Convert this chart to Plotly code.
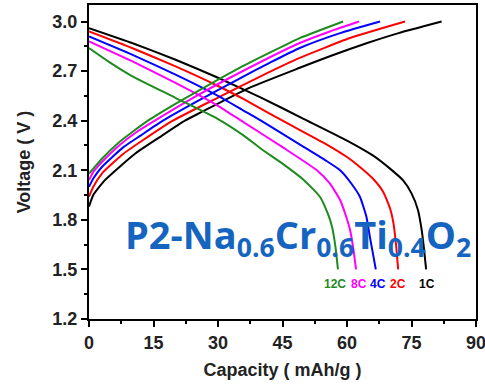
import plotly.graph_objects as go

rates = ["1C", "2C", "4C", "8C", "12C"]
colors = ["#000000", "#FF0000", "#0000FF", "#FF00FF", "#1E8B1E"]
label_dx = [0.2, 0.0, 0.5, 0.7, -0.7]

# Discharge curves (capacity, voltage)
dis_cap = {
    "1C": [0, 10, 20, 30, 40, 50, 60, 66, 70, 73, 75, 76.5, 77.3, 77.8, 78.2, 78.4],
    "2C": [0, 10, 20, 30, 36, 45, 55, 60, 63, 66, 68.4, 70, 70.8, 71.4, 71.9],
    "4C": [0, 10, 20, 30, 36, 40, 50, 55, 58.4, 61, 63, 64.5, 65.3, 66, 66.7],
    "8C": [0, 10, 20, 30, 36, 45, 53, 56, 58.4, 59.8, 60.7, 61.5, 62.1],
    "12C": [0, 5, 10, 20, 30, 36, 40, 45, 50, 53.7, 55.5, 56.5, 57.3, 57.9],
}
dis_v = {
    "1C": [2.96, 2.87, 2.77, 2.66, 2.54, 2.41, 2.28, 2.19, 2.11, 2.04, 1.96, 1.86, 1.75, 1.65, 1.55, 1.50],
    "2C": [2.94, 2.84, 2.73, 2.61, 2.53, 2.40, 2.26, 2.18, 2.12, 2.05, 1.97, 1.87, 1.78, 1.65, 1.50],
    "4C": [2.91, 2.80, 2.68, 2.55, 2.46, 2.40, 2.24, 2.16, 2.10, 2.02, 1.94, 1.82, 1.70, 1.60, 1.50],
    "8C": [2.88, 2.76, 2.63, 2.49, 2.39, 2.24, 2.10, 2.02, 1.92, 1.82, 1.74, 1.62, 1.50],
    "12C": [2.84, 2.75, 2.67, 2.54, 2.41, 2.31, 2.23, 2.14, 2.04, 1.94, 1.84, 1.76, 1.64, 1.50],
}

# Charge curves (capacity, voltage)
chg_cap = {
    "1C": [0, 1, 3.7, 10.7, 17, 22.3, 26, 37.4, 49, 56, 64.7, 72, 82],
    "2C": [0, 1, 3, 8, 13, 19.5, 30, 40, 49, 60.7, 73.5],
    "4C": [0, 1, 3, 8, 12, 17.2, 25, 35, 42, 49, 58.4, 67.7],
    "8C": [0, 1, 3, 7, 11, 15.3, 25, 35, 49, 56, 62.8],
    "12C": [0, 1, 3, 7, 10, 13.7, 20, 25, 35, 49, 54, 59.1],
}
chg_v = {
    "1C": [1.88, 1.95, 2.04, 2.20, 2.31, 2.40, 2.45, 2.60, 2.72, 2.79, 2.87, 2.93, 3.00],
    "2C": [1.94, 2.00, 2.08, 2.20, 2.29, 2.40, 2.54, 2.67, 2.78, 2.90, 3.00],
    "4C": [2.00, 2.05, 2.12, 2.24, 2.31, 2.40, 2.515, 2.655, 2.75, 2.84, 2.93, 3.00],
    "8C": [2.04, 2.09, 2.15, 2.25, 2.33, 2.40, 2.55, 2.69, 2.87, 2.94, 3.00],
    "12C": [2.08, 2.11, 2.17, 2.27, 2.33, 2.40, 2.50, 2.575, 2.72, 2.90, 2.95, 3.00],
}

x_ticks = [0, 15, 30, 45, 60, 75, 90]
y_ticks = [1.2, 1.5, 1.8, 2.1, 2.4, 2.7, 3.0]

fig = go.Figure()
for r, c in zip(rates, colors):
    fig.add_trace(go.Scatter(x=dis_cap[r], y=dis_v[r], mode="lines",
                             line=dict(color=c, width=2, shape="spline", smoothing=0.5),
                             showlegend=False))
    fig.add_trace(go.Scatter(x=chg_cap[r], y=chg_v[r], mode="lines",
                             line=dict(color=c, width=2, shape="spline", smoothing=0.5),
                             showlegend=False))

for r, c, dx in zip(rates, colors, label_dx):
    fig.add_annotation(x=dis_cap[r][-1] + dx, y=1.41, xref="x", yref="y",
                       text="<b>%s</b>" % r, showarrow=False,
                       font=dict(family="Liberation Sans", size=12, color=c))

fig.add_annotation(x=48.5, y=1.70, xref="x", yref="y",
                   text="<b>P2-Na<sub>0.6</sub>Cr<sub>0.6</sub>Ti<sub>0.4</sub>O<sub>2</sub></b>",
                   showarrow=False,
                   font=dict(family="Open Sans", size=38, color="#1565C0"))

axis_common = dict(
    showgrid=False, zeroline=False, showline=True, linecolor="black", linewidth=2,
    mirror=True, ticks="outside", ticklen=6, tickwidth=2, tickcolor="black",
    tickfont=dict(family="Liberation Sans", size=18, color="#222222"),
    automargin=False,
)

fig.update_xaxes(range=[0, 90], tickvals=x_ticks, ticktext=["<b>%g</b>" % v for v in x_ticks],
                 ticklabeloverflow="allow",
                 minor=dict(ticks="outside", ticklen=3, tickwidth=2, tickcolor="black", dtick=7.5),
                 title=dict(text="<b>Capacity ( mAh/g )</b>", standoff=12,
                            font=dict(family="Liberation Sans", size=18, color="#222222")),
                 **axis_common)
fig.update_yaxes(range=[1.2, 3.1], tickvals=y_ticks, ticktext=["<b>%.1f</b>" % v for v in y_ticks],
                 minor=dict(ticks="outside", ticklen=3, tickwidth=2, tickcolor="black", dtick=0.15, tick0=1.2),
                 title=dict(text="<b>Voltage ( V )</b>", standoff=17,
                            font=dict(family="Liberation Sans", size=18, color="#222222")),
                 **axis_common)

fig.update_layout(width=485, height=387, margin=dict(l=89, r=9, t=5, b=68),
                  plot_bgcolor="white", paper_bgcolor="white")

fig.write_html("out.html")
